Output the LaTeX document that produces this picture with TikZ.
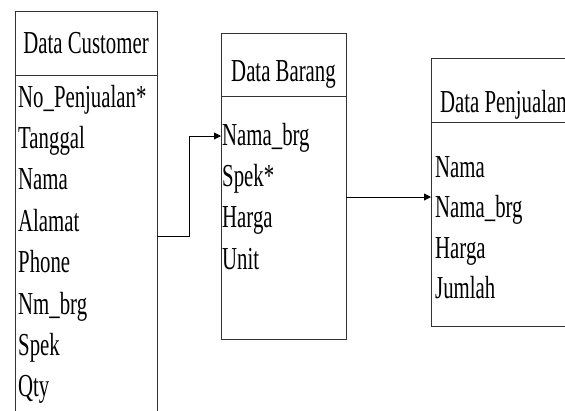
\documentclass[tikz,border=0pt]{standalone}
\usepackage{fontspec}
\setmainfont{Liberation Serif}[FakeStretch=0.65]
\usetikzlibrary{arrows.meta}
\begin{document}
\begin{tikzpicture}[x=1bp,y=-1bp,
  box/.style={draw=black!80, line width=0.9bp, rectangle, inner sep=0pt, anchor=north west},
  sep/.style={draw=black!80, line width=0.9bp},
  txt/.style={inner sep=0pt, anchor=base west, font=\fontsize{32bp}{38bp}\selectfont},
  ttl/.style={inner sep=0pt, anchor=base, font=\fontsize{32bp}{38bp}\selectfont},
  conn/.style={draw=black, line width=0.9bp, -{Triangle[length=7bp,width=7bp]}}]
\clip (0,0) rectangle (565,410);
\fill[white] (0,0) rectangle (565,410);
% Data Customer
\node[box, minimum width=142bp, minimum height=420bp] (cust) at (15,11) {};
\draw[sep] (15,75) -- (157,75);
\node[ttl] (custT) at (86,53) {Data Customer};
\foreach \t [count=\i from 0] in {No\_Penjualan*,Tanggal,Nama,Alamat,Phone,Nm\_brg,Spek,Qty}
  \node[txt] (cust\i) at (18,107+41.4*\i) {\t};
% Data Barang
\node[box, minimum width=125bp, minimum height=306bp] (bar) at (221,33) {};
\draw[sep] (221,96) -- (346,96);
\node[ttl] (barT) at (283.5,81) {Data Barang};
\foreach \t [count=\i from 0] in {Nama\_brg,Spek*,Harga,Unit}
  \node[txt] (bar\i) at (222,145+41.4*\i) {\t};
% Data Penjualan
\node[box, minimum width=160bp, minimum height=268bp] (pen) at (431,58) {};
\draw[sep] (431,122) -- (600,122);
\node[txt] (penT) at (440,112) {Data Penjualan};
\foreach \t [count=\i from 0] in {Nama,Nama\_brg,Harga,Jumlah}
  \node[txt] (pen\i) at (435,177+40.5*\i) {\t};
% connectors
\coordinate (a1) at (157,236);
\coordinate (a2) at (221,136);
\coordinate (b1) at (346,197);
\coordinate (b2) at (431,197);
\draw[conn] (a1) -- ++(32,0) |- (a2);
\draw[conn] (b1) -- (b2);
\end{tikzpicture}
\end{document}
